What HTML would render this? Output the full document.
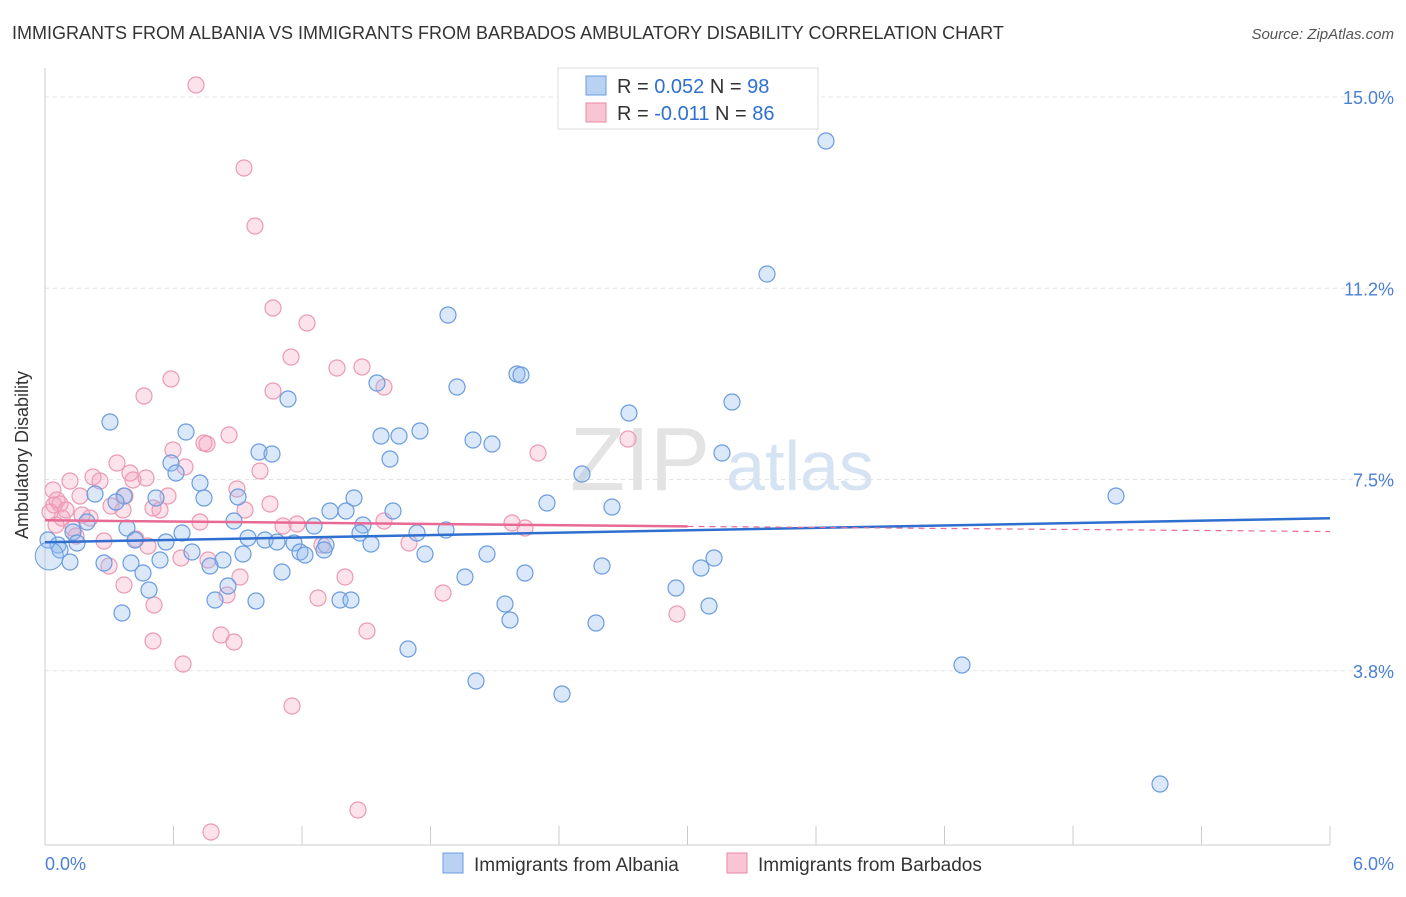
<!DOCTYPE html>
<html><head><meta charset="utf-8"><style>
body{margin:0;background:#fff;font-family:"Liberation Sans",sans-serif;}
svg text{font-family:"Liberation Sans",sans-serif;}
</style></head><body>
<svg width="1406" height="892" xmlns="http://www.w3.org/2000/svg">
<text x="12" y="39" font-size="18" fill="#333">IMMIGRANTS FROM ALBANIA VS IMMIGRANTS FROM BARBADOS AMBULATORY DISABILITY CORRELATION CHART</text>
<text x="1394" y="39" font-size="15" fill="#555" font-style="italic" text-anchor="end">Source: ZipAtlas.com</text>
<g id="grid"></g>
<g id="axes"></g>
<text x="640" y="490" font-size="90" fill="#e3e3e3" font-family="Liberation Serif" text-anchor="middle">ZIP</text>
<text x="800" y="490" font-size="70" fill="#d6e3f3" text-anchor="middle">atlas</text>
<g id="pts"></g>
<g id="trends"></g>
<text x="28" y="455" font-size="18" fill="#333" transform="rotate(-90 28 455)" text-anchor="middle">Ambulatory Disability</text>
<text x="45" y="870" font-size="18" fill="#4a7fd4">0.0%</text>
<text x="1394" y="870" font-size="18" fill="#4a7fd4" text-anchor="end">6.0%</text>
<g>
<rect x="558" y="68" width="260" height="61" fill="#fff" stroke="#ddd"/>
<rect x="586" y="76" width="20" height="19" fill="#b9d2f3" stroke="#6a9ce0"/>
<rect x="586" y="103" width="20" height="19" fill="#f9c4d3" stroke="#e88aa6"/>
<text x="617" y="93" font-size="20" fill="#333">R = <tspan fill="#2f6fd0">0.052</tspan>   N = <tspan fill="#2f6fd0">98</tspan></text>
<text x="617" y="120" font-size="20" fill="#333">R = <tspan fill="#2f6fd0">-0.011</tspan>   N = <tspan fill="#2f6fd0">86</tspan></text>
</g>
<g>
<rect x="443" y="853" width="20" height="20" fill="#b9d2f3" stroke="#6a9ce0"/>
<text x="474" y="871" font-size="19" fill="#333">Immigrants from Albania</text>
<rect x="727" y="853" width="20" height="20" fill="#f9c4d3" stroke="#e88aa6"/>
<text x="758" y="871" font-size="19" fill="#333">Immigrants from Barbados</text>
</g>
</svg>
<script>
const yTicks=[15.0,11.25,7.5,3.75];
const yTickLabels=["15.0%","11.2%","7.5%","3.8%"];
const albaniaPx=[[826,141],[767,274],[448,315],[517,374],[521,375],[457,387],[377,383],[732,402],[629,413],[288,399],[110,422],[186,432],[381,436],[399,436],[420,431],[473,440],[492,444],[722,453],[259,452],[272,454],[390,459],[171,463],[176,473],[582,474],[200,483],[1116,496],[95,494],[124,496],[156,498],[204,498],[238,497],[354,498],[547,503],[612,507],[330,511],[346,511],[393,511],[116,502],[234,521],[87,522],[127,528],[314,526],[363,525],[417,533],[446,530],[182,533],[360,533],[73,532],[248,538],[265,540],[277,542],[294,543],[326,545],[371,544],[166,542],[135,540],[58,545],[48,540],[60,550],[77,543],[70,562],[192,552],[223,560],[243,554],[300,552],[305,555],[324,550],[425,554],[487,554],[104,563],[131,563],[160,560],[210,566],[143,573],[282,572],[465,577],[525,573],[602,566],[714,558],[701,568],[228,586],[149,590],[215,600],[256,601],[340,600],[351,600],[505,604],[676,588],[709,606],[122,613],[510,620],[596,623],[408,649],[962,665],[476,681],[562,694],[1160,784]];
const barbadosPx=[[196,85],[244,168],[255,226],[273,308],[307,323],[291,357],[337,368],[362,367],[384,387],[273,391],[171,379],[144,396],[229,435],[204,443],[207,444],[173,450],[538,453],[628,439],[117,463],[185,467],[260,471],[130,473],[146,478],[70,481],[93,477],[100,481],[133,480],[53,490],[125,496],[237,489],[57,500],[80,496],[168,496],[60,504],[111,506],[270,504],[153,508],[123,510],[245,510],[62,518],[90,518],[82,515],[160,510],[200,522],[56,525],[73,528],[297,524],[283,526],[384,521],[512,523],[525,528],[136,539],[104,541],[148,546],[322,545],[409,543],[181,558],[208,560],[109,566],[124,585],[240,577],[345,577],[154,605],[227,595],[318,598],[443,593],[677,614],[367,631],[221,635],[234,642],[153,641],[183,664],[292,706],[358,810],[211,832],[54,505],[50,512],[66,510],[76,536]];
// convert estimated positions into data values
const albaniaX=albaniaPx.map(p=>(p[0]-45)/1285*6), albaniaY=albaniaPx.map(p=>15-(p[1]-97)/51);
const barbadosX=barbadosPx.map(p=>(p[0]-45)/1285*6), barbadosY=barbadosPx.map(p=>15-(p[1]-97)/51);
const albaniaTrend=[[0,6.27],[6,6.74]];
const barbadosTrend=[[0,6.70],[3,6.58],[6,6.48]];
const NS="http://www.w3.org/2000/svg";
const sx=v=>45+v/6*1285, sy=v=>97+(15-v)*51;
function mk(t,a,p){const e=document.createElementNS(NS,t);for(const k in a)e.setAttribute(k,a[k]);p.appendChild(e);return e;}
const grid=document.getElementById('grid'),axes=document.getElementById('axes');
yTicks.forEach((t,i)=>{
 const l=mk('line',{x1:45,x2:1394,y1:sy(t),y2:sy(t),stroke:'#e4e4e4','stroke-dasharray':'4,4'},grid);
 
 
 const tx=mk('text',{x:1394,y:sy(t)+7,'font-size':18,fill:'#4a7fd4','text-anchor':'end'},axes);
 tx.textContent=yTickLabels[i];
 
 
});
mk('line',{x1:45,x2:45,y1:68,y2:845,stroke:'#ccc'},axes);
mk('line',{x1:45,x2:1330,y1:845,y2:845,stroke:'#ccc'},axes);
for(let i=0;i<=10;i++){const t=mk('line',{x1:sx(i*0.6),x2:sx(i*0.6),y1:826,y2:845,stroke:'#ccc'},axes);
 
 }
const pts=document.getElementById('pts');
barbadosX.forEach((x,i)=>{const c=mk('circle',{cx:sx(x),cy:sy(barbadosY[i]),r:8,fill:'rgba(244,160,188,0.3)',stroke:'#eb9ab4','stroke-width':1.2},pts);
 
 });
albaniaX.forEach((x,i)=>{const c=mk('circle',{cx:sx(x),cy:sy(albaniaY[i]),r:8,fill:'rgba(150,188,238,0.35)',stroke:'#6a9ce0','stroke-width':1.2},pts);
 
 });
const big=mk('circle',{cx:sx(0.02),cy:sy(6.0),r:14,fill:'rgba(150,188,238,0.35)',stroke:'#6a9ce0'},pts);


const tr=document.getElementById('trends');
const a=mk('line',{x1:sx(albaniaTrend[0][0]),y1:sy(albaniaTrend[0][1]),x2:sx(albaniaTrend[1][0]),y2:sy(albaniaTrend[1][1]),stroke:'#2f6fd0','stroke-width':2.5},tr);


const b1=mk('line',{x1:sx(barbadosTrend[0][0]),y1:sy(barbadosTrend[0][1]),x2:sx(barbadosTrend[1][0]),y2:sy(barbadosTrend[1][1]),stroke:'#e86a94','stroke-width':2.5},tr);


const b2=mk('line',{x1:sx(barbadosTrend[1][0]),y1:sy(barbadosTrend[1][1]),x2:sx(barbadosTrend[2][0]),y2:sy(barbadosTrend[2][1]),stroke:'#e86a94','stroke-width':1.2,'stroke-dasharray':'6,5'},tr);


</script>
</body></html>
